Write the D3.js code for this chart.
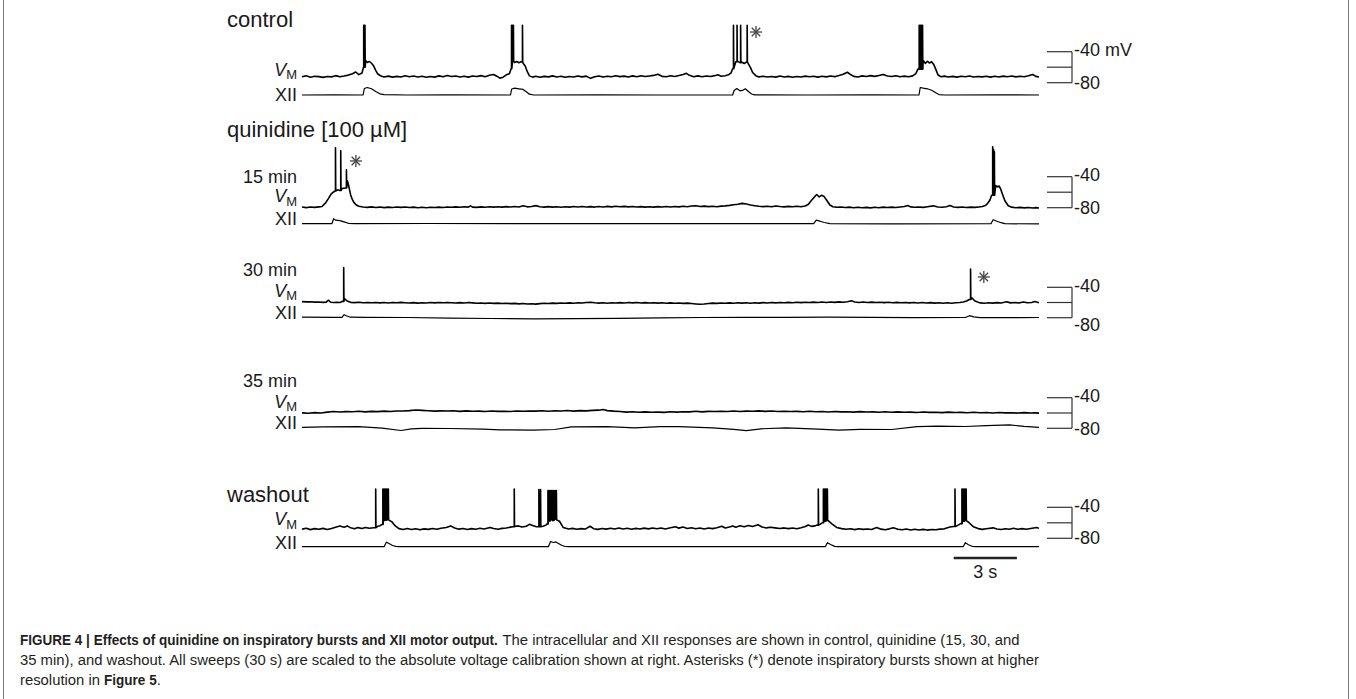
<!DOCTYPE html>
<html>
<head>
<meta charset="utf-8">
<script src="https://cdn.jsdelivr.net/npm/d3@7"></script>
<style>
  body { margin: 0; background: #fff; }
  svg text { font-family: Arial, "Liberation Sans", Helvetica, sans-serif; fill: #1a1a1a; }
</style>
</head>
<body>
<div id="chart"></div>
<script>
// sweep length (s) and voltage calibration (mV)
const sweepSeconds = [0, 35];
const calTicks = [-40, -60, -80];
const scaleBarSeconds = [30.95, 33.95];

const panelTitles = ['control', '15 min', '30 min', '35 min', 'washout'];
const drugTitle = 'quinidine [100 µM]';

// membrane potential, [t (s), mV]
const vmControl = [[0,-72.4],[0.2,-71.0],[0.4,-72.9],[0.6,-71.6],[0.8,-72.2],[1.0,-73.1],[1.2,-71.9],[1.4,-72.5],[1.6,-70.9],[1.8,-72.3],[2.0,-71.4],[2.2,-70.2],[2.4,-68.4],[2.55,-66.2],[2.7,-69.6],[2.85,-67.5],[2.92,-60],
  [3.02,-51.5],[3.1,-53.8],[3.2,-52.6],[3.3,-54.9],[3.4,-58.2],[3.5,-64.0],[3.6,-68.8],[3.75,-71.4],[3.9,-72.7],[4.1,-71.5],[4.3,-72.8],[4.5,-71.8],[4.7,-72.6],[4.9,-71.1],[5.1,-72.4],[5.3,-71.4],[5.5,-72.7],[5.7,-71.7],[5.9,-72.9],[6.1,-71.9],[6.3,-72.8],[6.5,-71.2],[6.7,-72.3],[6.9,-70.7],[7.1,-72.1],[7.3,-71.3],[7.5,-72.6],[7.7,-71.6],[7.9,-72.8],[8.1,-71.4],[8.3,-72.1],[8.5,-70.9],[8.7,-72.2],[8.9,-70.4],[9.1,-69.4],[9.25,-71.6],[9.4,-74.1],[9.55,-72.9],[9.7,-69.8],[9.85,-68.3],[9.93,-62],
  [10.0,-52.4],[10.1,-54.0],[10.2,-52.6],[10.3,-54.2],[10.4,-53.1],[10.5,-55.0],[10.6,-58.4],[10.7,-65.8],[10.8,-71.2],[10.95,-72.8],[11.1,-71.6],[11.3,-72.9],[11.5,-71.8],[11.7,-72.5],[11.9,-71.2],[12.1,-72.6],[12.3,-71.6],[12.5,-73.0],[12.7,-71.9],[12.9,-72.7],[13.1,-71.3],[13.3,-72.5],[13.5,-71.5],[13.7,-74.4],[13.9,-72.4],[14.1,-71.3],[14.3,-72.7],[14.5,-71.6],[14.7,-72.4],[14.9,-71.0],[15.1,-72.2],[15.3,-71.5],[15.5,-72.6],[15.7,-71.2],[15.9,-72.3],[16.1,-71.0],[16.3,-72.1],[16.5,-71.4],[16.7,-70.6],[16.9,-69.2],[17.1,-71.8],[17.3,-72.4],[17.5,-71.1],[17.7,-72.0],[17.9,-70.8],[18.1,-69.4],[18.25,-67.9],[18.4,-70.5],[18.6,-72.3],[18.8,-71.2],[19.0,-72.4],[19.2,-71.3],[19.4,-72.0],[19.6,-70.9],[19.75,-69.8],[19.9,-71.6],[20.1,-71.0],[20.25,-69.8],[20.38,-67.2],[20.45,-62],
  [20.5,-51.8],[20.6,-53.0],[20.7,-52.4],[20.8,-54.1],[20.9,-53.6],[21.0,-55.2],[21.1,-53.4],[21.2,-55.8],[21.3,-60.5],[21.4,-66.8],[21.55,-70.9],[21.7,-72.5],[21.9,-71.6],[22.1,-72.7],[22.3,-71.9],[22.5,-72.8],[22.7,-71.4],[22.9,-72.6],[23.1,-71.8],[23.3,-72.9],[23.5,-72.0],[23.7,-72.7],[23.9,-71.5],[24.1,-72.4],[24.3,-71.7],[24.5,-72.8],[24.7,-71.6],[24.9,-72.5],[25.1,-71.3],[25.3,-72.2],[25.5,-70.8],[25.7,-69.2],[25.9,-66.5],[26.05,-69.5],[26.2,-71.8],[26.4,-72.6],[26.6,-71.2],[26.8,-72.0],[27.0,-70.9],[27.2,-71.8],[27.4,-70.6],[27.6,-69.3],[27.8,-71.4],[28.0,-72.1],[28.2,-71.0],[28.4,-72.3],[28.6,-71.5],[28.8,-72.4],[29.0,-71.2],[29.15,-68.2],[29.25,-62.5],
  [29.5,-51.5],[29.6,-55.0],[29.7,-52.3],[29.8,-54.6],[29.9,-53.0],[30.0,-56.4],[30.1,-62.8],[30.2,-69.7],[30.35,-72.4],[30.5,-71.5],[30.7,-72.6],[30.9,-71.8],[31.1,-72.8],[31.3,-71.6],[31.5,-72.4],[31.7,-71.4],[31.9,-72.7],[32.1,-71.9],[32.3,-72.5],[32.5,-71.6],[32.7,-72.8],[32.9,-71.7],[33.1,-72.6],[33.3,-71.5],[33.5,-72.4],[33.7,-71.3],[33.9,-72.5],[34.1,-71.6],[34.3,-72.3],[34.5,-71.0],[34.7,-69.4],[34.85,-71.8],[35.0,-72.6]];
const vm15 = [[0,-79.2],[0.2,-79.9],[0.4,-79.0],[0.6,-79.6],[0.8,-78.9],[0.95,-78.4],[1.13,-73.5],[1.26,-68.0],[1.38,-62.5],[1.5,-59.7],[1.57,-58.5],[1.63,-57.8],[1.72,-57.0],[1.8,-57.9],[1.89,-55.5],[1.97,-55.0],[2.06,-54.6],[2.15,-45.0],[2.22,-52],[2.31,-63.5],[2.4,-70],[2.47,-73.5],[2.58,-76.5],[2.7,-78.2],[2.9,-79.0],
  [3.1,-79.6],[3.3,-78.9],[3.5,-79.7],[3.7,-79.2],[3.9,-79.9],[4.1,-79.3],[4.3,-79.8],[4.5,-79.1],[4.7,-79.6],[4.9,-79.0],[5.1,-79.7],[5.3,-79.3],[5.5,-80.1],[5.7,-79.5],[5.9,-80.0],[6.1,-79.4],[6.3,-79.8],[6.5,-79.2],[6.7,-79.7],[6.9,-79.0],[7.1,-79.5],[7.3,-78.9],[7.5,-79.4],[7.7,-78.8],[7.9,-79.3],[8.0,-77.6],[8.1,-79.2],[8.3,-79.6],[8.5,-78.9],[8.7,-79.4],[8.9,-78.8],[9.1,-79.3],[9.3,-78.7],[9.5,-79.2],[9.7,-78.6],[9.9,-79.1],[10.1,-78.5],[10.3,-79.0],[10.5,-77.5],[10.7,-78.9],[10.9,-78.4],[11.1,-77.3],[11.3,-78.8],[11.5,-79.3],[11.7,-78.6],[11.9,-79.2],[12.1,-78.7],[12.3,-79.4],[12.5,-78.8],[12.7,-79.3],[12.9,-78.5],[13.1,-79.0],[13.3,-78.4],[13.5,-79.1],[13.7,-78.6],[13.9,-79.2],[14.1,-78.5],[14.3,-79.0],[14.5,-78.3],[14.7,-78.9],[14.9,-78.2],[15.1,-78.8],[15.3,-78.3],[15.5,-78.9],[15.7,-78.5],[15.9,-79.1],[16.1,-78.6],[16.3,-79.2],[16.5,-78.7],[16.7,-79.3],[16.9,-78.6],[17.1,-79.0],[17.3,-78.4],[17.5,-79.1],[17.7,-78.5],[17.9,-78.9],[18.1,-78.2],[18.3,-78.7],[18.5,-77.9],[18.7,-77.4],[18.9,-78.5],[19.1,-78.0],[19.3,-78.6],[19.5,-78.1],[19.7,-78.7],[19.9,-78.0],[20.1,-77.6],[20.3,-77.0],[20.5,-76.2],[20.7,-75.5],[20.9,-74.4],[21.1,-75.2],[21.3,-76.5],[21.5,-77.4],[21.7,-78.2],[21.9,-78.6],[22.1,-78.1],[22.3,-78.8],[22.5,-77.9],[22.7,-78.5],[22.9,-78.9],[23.1,-78.3],[23.3,-78.8],[23.5,-78.2],[23.7,-78.7],[23.9,-77.8],
  [24.05,-75.5],[24.15,-72.0],[24.26,-68.5],[24.44,-63.0],[24.56,-66.0],[24.68,-64.0],[24.79,-65.5],[24.91,-70.0],[25.07,-76.5],[25.21,-78.8],[25.4,-79.5],[25.6,-79.0],[25.8,-79.8],[26.0,-79.3],[26.2,-80.0],[26.4,-79.4],[26.6,-80.1],[26.8,-79.6],[27.0,-80.2],[27.2,-79.5],[27.4,-80.0],[27.6,-79.3],[27.8,-79.8],[28.0,-79.2],[28.2,-79.7],[28.4,-79.0],[28.6,-78.4],[28.77,-77.2],[28.9,-78.9],[29.1,-79.5],[29.3,-79.0],[29.5,-79.6],[29.7,-78.8],[29.98,-77.6],[30.2,-79.1],[30.4,-79.5],[30.6,-78.7],[30.77,-77.3],[30.95,-79.0],[31.15,-79.6],[31.35,-79.1],[31.55,-79.7],[31.75,-79.2],[31.95,-79.6],[32.15,-79.0],[32.3,-78.5],[32.42,-77.5],[32.51,-76.0],[32.6,-73.0],[32.67,-70.0],[32.75,-64.0],
  [32.94,-51.5],[33.02,-53.0],[33.11,-52.0],[33.18,-56.0],[33.27,-63.0],[33.38,-71.0],[33.54,-77.5],[33.7,-79.3],[33.9,-80.0],[34.1,-79.6],[34.3,-80.2],[34.5,-79.7],[34.7,-80.3],[34.85,-79.9],[35.0,-80.4]];
const vm30 = [[0,-58.8],[0.2,-59.2],[0.4,-59.0],[0.6,-59.5],[0.8,-59.3],[1.0,-59.8],[1.15,-59.5],[1.26,-57.0],[1.36,-59.7],[1.5,-60.0],[1.65,-59.6],[1.8,-59.9],[1.93,-58.5],[2.01,-55.0],[2.14,-58.0],[2.31,-59.8],[2.5,-60.2],[2.7,-59.7],[2.9,-60.3],[3.1,-59.9],[3.3,-60.4],[3.5,-60.0],[3.7,-60.5],[3.9,-60.1],[4.1,-60.6],[4.3,-60.0],[4.5,-60.4],[4.7,-59.8],[4.9,-60.3],[5.1,-60.7],[5.3,-60.2],[5.5,-60.8],[5.7,-60.3],[5.9,-60.6],[6.1,-60.1],[6.3,-60.5],[6.5,-60.0],[6.7,-60.4],[6.9,-59.9],[7.1,-60.3],[7.3,-60.7],[7.5,-60.2],[7.7,-60.6],[7.9,-60.1],[8.1,-60.5],[8.3,-61.0],[8.5,-60.6],[8.7,-61.1],[8.9,-60.7],[9.1,-61.2],[9.3,-60.8],[9.5,-61.3],[9.7,-60.9],[9.9,-61.5],
  [10.1,-61.2],[10.3,-61.8],[10.5,-61.4],[10.7,-62.0],[10.9,-61.6],[11.1,-62.1],[11.3,-61.5],[11.5,-61.0],[11.7,-61.4],[11.9,-60.8],[12.1,-61.2],[12.3,-60.6],[12.5,-61.0],[12.7,-60.5],[12.9,-60.9],[13.1,-60.3],[13.3,-60.7],[13.5,-60.1],[13.7,-59.6],[13.9,-60.3],[14.1,-60.8],[14.3,-60.4],[14.5,-60.9],[14.7,-60.3],[14.9,-60.7],[15.1,-60.2],[15.3,-60.6],[15.5,-60.0],[15.7,-60.5],[15.9,-60.1],[16.1,-60.6],[16.3,-60.2],[16.5,-60.7],[16.7,-60.3],[16.9,-60.8],[17.1,-60.4],[17.3,-60.9],[17.5,-60.5],[17.7,-61.0],[17.9,-60.6],[18.1,-61.1],[18.3,-60.8],[18.5,-61.4],[18.7,-61.9],[18.9,-62.4],[19.1,-62.0],[19.3,-61.3],[19.5,-60.8],[19.7,-61.2],[19.9,-60.6],
  [20.1,-61.0],[20.3,-60.5],[20.5,-60.9],[20.7,-60.4],[20.9,-60.8],[21.1,-60.3],[21.3,-60.9],[21.5,-60.4],[21.7,-60.8],[21.9,-60.2],[22.1,-60.6],[22.3,-60.0],[22.5,-60.5],[22.7,-59.9],[22.9,-60.4],[23.1,-59.8],[23.3,-60.3],[23.5,-59.7],[23.7,-60.2],[23.9,-59.6],[24.1,-60.1],[24.3,-59.5],[24.5,-60.0],[24.7,-59.4],[24.9,-59.9],[25.1,-59.3],[25.3,-59.8],[25.5,-59.2],[25.7,-59.7],[25.9,-59.0],[26.1,-57.8],[26.25,-59.4],[26.45,-59.9],[26.65,-59.4],[26.85,-60.0],[27.05,-59.5],[27.25,-60.1],[27.45,-59.6],[27.65,-60.2],[27.85,-59.7],[28.05,-60.3],[28.25,-59.8],[28.45,-60.4],[28.65,-59.9],[28.85,-60.5],[29.05,-60.0],[29.25,-60.6],[29.45,-60.1],[29.65,-60.7],[29.85,-60.2],
  [30.05,-60.8],[30.25,-60.3],[30.45,-60.9],[30.65,-60.4],[30.85,-60.9],[31.05,-60.3],[31.24,-60.0],[31.4,-59.4],[31.56,-58.0],[31.69,-56.0],[31.81,-54.0],[31.96,-58.0],[32.19,-60.5],[32.4,-60.9],[32.6,-60.4],[32.8,-60.8],[33.0,-60.2],[33.2,-60.6],[33.46,-59.0],[33.65,-60.5],[33.85,-60.0],[34.05,-60.6],[34.25,-59.4],[34.45,-60.4],[34.65,-59.9],[34.8,-58.8],[35.0,-60.2]];
const vm35 = [[0,-59.8],[0.3,-60.3],[0.6,-59.5],[0.9,-60.0],[1.2,-58.9],[1.5,-58.1],[1.8,-58.7],[2.1,-58.2],[2.4,-58.4],[2.7,-57.8],[3.0,-58.5],[3.3,-57.9],[3.6,-58.2],[3.9,-57.5],[4.2,-58.0],[4.5,-57.3],[4.8,-57.4],[5.1,-56.9],[5.4,-56.1],[5.7,-56.6],[6.0,-57.0],[6.3,-57.6],[6.6,-57.2],[6.9,-57.4],[7.2,-57.1],[7.5,-57.9],[7.8,-57.2],[8.1,-57.7],[8.4,-57.5],[8.7,-58.1],[9.0,-57.4],[9.3,-57.9],[9.6,-57.7],[9.9,-58.0],
  [10.2,-57.3],[10.5,-57.8],[10.8,-57.4],[11.1,-57.6],[11.4,-57.0],[11.7,-57.7],[12.0,-57.1],[12.3,-57.3],[12.6,-56.8],[12.9,-57.5],[13.2,-56.9],[13.5,-57.2],[13.8,-56.6],[14.1,-56.3],[14.3,-55.5],[14.5,-56.9],[14.8,-57.6],[15.1,-58.1],[15.4,-58.9],[15.7,-58.3],[16.0,-59.1],[16.3,-58.5],[16.6,-59.0],[16.9,-58.8],[17.2,-59.2],[17.5,-58.4],[17.8,-58.8],[18.1,-58.3],[18.4,-58.5],[18.7,-57.8],[19.0,-58.5],[19.3,-57.9],[19.6,-58.1],[19.9,-57.7],
  [20.2,-58.0],[20.5,-57.4],[20.8,-58.1],[21.1,-57.5],[21.4,-57.8],[21.7,-57.2],[22.0,-57.9],[22.3,-57.3],[22.6,-58.1],[22.9,-57.7],[23.2,-58.0],[23.5,-57.9],[23.8,-58.4],[24.1,-57.8],[24.4,-58.3],[24.7,-58.1],[25.0,-58.6],[25.3,-58.0],[25.6,-58.5],[25.9,-58.3],[26.2,-58.8],[26.5,-58.2],[26.8,-58.7],[27.1,-58.5],[27.4,-59.0],[27.7,-58.4],[28.0,-59.1],[28.3,-58.5],[28.6,-59.0],[28.9,-58.8],[29.2,-59.3],[29.5,-58.7],[29.8,-59.2],
  [30.1,-59.0],[30.4,-59.5],[30.7,-58.9],[31.0,-59.4],[31.3,-59.2],[31.6,-59.7],[31.9,-59.1],[32.2,-59.6],[32.5,-59.4],[32.8,-59.9],[33.1,-59.3],[33.4,-59.8],[33.7,-59.6],[34.0,-60.1],[34.3,-59.5],[34.6,-60.0],[34.8,-59.8],[35.0,-60.1]];
const vmWash = [[0,-68.2],[0.2,-67.0],[0.4,-68.8],[0.6,-67.5],[0.8,-68.4],[1.0,-67.2],[1.2,-68.6],[1.4,-67.4],[1.63,-65.5],[1.8,-64.2],[2.0,-65.8],[2.15,-64.0],[2.31,-66.5],[2.5,-67.8],[2.65,-66.2],[2.85,-67.4],[3.0,-66.0],[3.2,-67.1],[3.4,-66.3],[3.59,-64.5],[3.7,-63.8],[3.8,-62.0],[3.86,-57],[3.95,-56.5],[4.05,-56],[4.15,-57],[4.26,-58.5],[4.43,-64],[4.6,-67.5],[4.8,-68.6],
  [5.0,-67.4],[5.2,-68.7],[5.4,-67.6],[5.6,-68.9],[5.8,-67.8],[6.0,-68.5],[6.2,-67.3],[6.4,-68.4],[6.6,-67.0],[6.85,-66.0],[7.06,-64.0],[7.25,-66.8],[7.45,-68.2],[7.65,-67.4],[7.85,-68.6],[8.05,-67.5],[8.25,-68.3],[8.45,-67.1],[8.65,-67.9],[8.93,-66.0],[9.1,-67.4],[9.3,-68.3],[9.5,-67.2],[9.7,-66.8],[9.9,-65.6],[10.03,-65.0],[10.15,-64.5],[10.28,-64.0],[10.45,-65.5],[10.65,-64.5],[10.8,-62.0],[10.95,-63.5],[11.13,-65.0],[11.45,-64.5],[11.58,-63.0],[11.64,-61.5],
  [11.7,-57.5],[11.8,-56.0],[11.9,-57.0],[12.0,-55.5],[12.1,-56.5],[12.23,-58.0],[12.4,-66.0],[12.66,-68.0],[12.85,-67.2],[13.05,-68.4],[13.25,-67.5],[13.45,-68.1],[13.68,-64.5],[13.85,-67.6],[14.05,-68.5],[14.25,-67.3],[14.45,-68.2],[14.65,-67.0],[14.85,-67.9],[15.05,-66.8],[15.25,-68.0],[15.45,-67.1],[15.65,-68.3],[15.85,-67.2],[16.05,-68.1],[16.25,-66.9],[16.45,-67.8],[16.65,-66.6],[16.85,-67.7],[17.05,-66.8],[17.25,-68.0],[17.5,-66.5],[17.74,-65.0],[17.9,-66.9],[18.09,-65.5],[18.3,-67.4],[18.5,-66.3],[18.7,-67.6],[18.9,-66.7],[19.1,-67.9],[19.3,-66.8],[19.5,-67.5],[19.7,-66.4],[19.94,-64.5],
  [20.1,-66.8],[20.3,-65.3],[20.46,-64.0],[20.6,-65.6],[20.8,-63.8],[21.0,-65.2],[21.2,-63.6],[21.4,-64.8],[21.65,-62.5],[21.85,-65.5],[22.05,-66.6],[22.25,-65.8],[22.46,-66.5],[22.7,-67.3],[22.9,-66.6],[23.1,-67.5],[23.3,-66.8],[23.5,-67.7],[23.7,-66.4],[23.9,-64.8],[24.04,-62.8],[24.2,-64.6],[24.35,-64.0],[24.44,-63.0],[24.6,-62.0],[24.7,-60.0],[24.78,-58.0],[24.88,-57.0],[24.99,-57.3],[25.15,-61.0],[25.39,-66.0],[25.63,-67.5],[25.85,-68.4],[26.05,-67.6],[26.25,-68.8],[26.45,-67.7],[26.65,-68.5],[26.85,-67.9],[27.05,-68.7],[27.29,-66.0],[27.5,-68.2],[27.7,-68.9],[27.9,-67.8],[28.08,-66.5],[28.3,-68.3],[28.5,-69.0],[28.7,-68.1],[28.9,-69.2],[29.1,-68.4],[29.3,-69.3],[29.5,-68.5],[29.7,-69.4],[29.9,-68.6],
  [30.1,-69.0],[30.3,-68.2],[30.5,-67.8],[30.77,-65.5],[30.93,-64.8],[31.08,-64.0],[31.16,-63.0],[31.28,-61.0],[31.36,-58.0],[31.46,-57.0],[31.56,-57.5],[31.64,-59.0],[31.88,-65.0],[32.11,-67.5],[32.3,-68.5],[32.5,-67.6],[32.82,-66.5],[33.0,-67.9],[33.2,-68.6],[33.4,-67.7],[33.6,-68.4],[33.78,-67.0],[34.0,-68.3],[34.2,-67.5],[34.4,-68.4],[34.6,-67.3],[34.89,-66.0],[35.0,-67.2]];

// action potentials, [t (s), peak mV]
const spikesControl = [[2.93,-6],[2.96,-6],[2.99,-6],[9.95,-6],[10.0,-6],[10.04,-6],[10.47,-6],[20.49,-6],[20.66,-6],[20.83,-6],[21.14,-6],[29.31,-6],[29.35,-6],[29.39,-6],[29.43,-6],[29.47,-6]];
const spikes15 = [[1.59,-2.8],[1.84,-6.5],[2.11,-31],[32.8,-1.3],[32.84,-5],[32.88,-7.7]];
const spikes30 = [[1.98,-14],[31.75,-16]];
const spikes35 = [];
const spikesWash = [[3.5,-16.4],[3.84,-16.4],[3.9,-16.4],[3.95,-16.4],[4.0,-16.4],[4.05,-16.4],[4.1,-16.4],[10.08,-16.4],[11.25,-17],[11.33,-17],[11.68,-18.5],[11.73,-18.5],[11.78,-18.5],[11.83,-18.5],[11.88,-18.5],[11.95,-18.5],[12.02,-18.5],[12.08,-18.5],[24.52,-16.4],[24.76,-16.4],[24.81,-16.4],[24.86,-16.4],[24.91,-16.4],[24.95,-16.4],[31.01,-16.4],[31.34,-16.4],[31.39,-16.4],[31.44,-16.4],[31.49,-16.4],[31.54,-16.4]];

// integrated XII motor output, [t (s), a.u.]
const xiiControl = [[0,0],[1.5,0.2],[2.9,0],[2.96,6.5],[3.1,7.5],[3.3,6.2],[3.5,3.5],[3.7,1.2],[3.9,0.3],[5,0],[7,0.2],[9.9,0],[9.96,6],[10.1,6.8],[10.3,6.2],[10.5,5.6],[10.65,3.2],[10.8,0.8],[11,0],[14,0.2],[17,0],[20.45,0],[20.52,4.5],[20.65,6.5],[20.8,4.2],[20.92,4.6],[21.05,6.2],[21.2,3.5],[21.35,1],[21.5,0.1],[24,0],[27,0.2],[29.3,0],[29.36,7.5],[29.5,6.8],[29.7,6.2],[29.9,4.8],[30.1,2.2],[30.25,0.4],[30.5,0],[33,0.1],[35,0]];
const xii15 = [[0,0],[1.42,0],[1.5,5],[1.6,3.5],[1.8,3],[2.0,1.8],[2.23,0.2],[2.5,0],[6,0.2],[10,0],[14,0.1],[18,0],[22,0.1],[24.3,0],[24.42,3.5],[24.6,2.5],[24.8,1.2],[25.07,0],[28,-0.1],[32.72,0],[32.82,4],[33.0,2.5],[33.2,1],[33.38,0],[35,-0.2]];
const xii30 = [[0,0.6],[1.5,0.3],[1.9,0.3],[2.0,3],[2.1,2],[2.3,0.5],[3,0.3],[5,0.2],[7,-0.4],[9,-0.8],[11,-1.2],[13,-1.0],[15,-0.6],[17,-0.2],[19,0.2],[21,0.4],[23,0.3],[25,0.5],[27,0.3],[29,0.1],[31.5,0.2],[31.7,2],[31.9,0.8],[32.2,0],[34,0.1],[35,0.2]];
const xii35 = [[0,0],[1,0.5],[2.7,0.7],[3.8,-0.8],[4.7,-3.2],[5.2,-1.5],[5.7,-1],[7,-1.2],[8.6,-1.8],[9.4,-2.6],[11,-2.8],[12,-2.2],[12.8,0.5],[14.5,0.7],[15.8,-0.5],[17,0.7],[17.9,0.6],[19.5,-0.5],[20.5,-2.0],[21.1,-3.4],[21.8,-1.5],[23,-0.6],[24.5,-1.8],[25.5,-2.8],[26.5,-2.1],[28,-2.2],[29.2,0.6],[30.2,1.2],[31.5,0.8],[32.5,1.6],[33.6,2.4],[34.3,0.9],[35,0]];
const xiiWash = [[0,0],[3.9,0],[3.98,3.5],[4.02,4.5],[4.15,3],[4.3,1.2],[4.45,0.3],[4.6,0],[8,0.1],[11.7,0],[11.8,5],[11.95,4.2],[12.05,4.8],[12.2,3],[12.35,1.2],[12.5,0.2],[12.7,0],[18,0.1],[24.85,0],[24.95,4],[25.1,2.2],[25.3,0.3],[25.45,0],[31.4,0],[31.5,4],[31.65,2],[31.85,0.2],[32,0],[35,0]];

// bursts marked for Figure 5, [panel, t (s), mV]
const asterisks = [[0, 21.56, -14.6], [1, 2.56, -19.7], [2, 32.38, -26.4]];

const captionLines = [
  [['FIGURE 4 | Effects of quinidine on inspiratory bursts and XII motor output.', true], ['The intracellular and XII responses are shown in control, quinidine (15, 30, and', false]],
  [['35 min), and washout. All sweeps (30 s) are scaled to the absolute voltage calibration shown at right. Asterisks (*) denote inspiratory bursts shown at higher', false]],
  [['resolution in', false], ['Figure 5', true], ['.', false]]
];

// layout (px)
const width = 1356, height = 699;
const panels = [
  { vm: vmControl, spikes: spikesControl, xii: xiiControl, y40: 51.7, y80: 82.7, xiiBase: 95, titleY: 27, labelDy: 4, big: true, unit: ' mV', lowDy: 6.5 },
  { vm: vm15, spikes: spikes15, xii: xii15, y40: 176.7, y80: 207.7, xiiBase: 223.7, titleY: 183, labelDy: 0, big: false, unit: '', lowDy: 6.5 },
  { vm: vm30, spikes: spikes30, xii: xii30, y40: 287.3, y80: 317.7, xiiBase: 317.7, titleY: 276, labelDy: 0, big: false, unit: '', lowDy: 13.5 },
  { vm: vm35, spikes: spikes35, xii: xii35, y40: 397.7, y80: 428.3, xiiBase: 427.3, titleY: 387, labelDy: 0, big: false, unit: '', lowDy: 6.5 },
  { vm: vmWash, spikes: spikesWash, xii: xiiWash, y40: 507.3, y80: 538.3, xiiBase: 546.7, titleY: 502, labelDy: 1, big: true, unit: '', lowDy: 5.5 }
];

const svg = d3.select('#chart').append('svg')
  .attr('width', width)
  .attr('height', height);

// figure frame
svg.append('rect')
  .attr('x', 3.5).attr('y', -10)
  .attr('width', 1345).attr('height', height + 20)
  .attr('fill', 'none')
  .attr('stroke', '#777')
  .attr('stroke-width', 1);

const x = d3.scaleLinear().domain(sweepSeconds).range([302, 1039]);

// merge action potentials into the sampled trace as needle-like excursions
const withSpikes = (base, spikes) => {
  const pts = base.map(d => ({ t: d[0], v: d[1], k: 0 }));
  spikes.forEach(([t, peak]) => {
    const prev = base.filter(d => d[0] <= t).pop() || base[0];
    pts.push({ t, v: prev[1], k: 1 }, { t, v: peak, k: 2 }, { t: t + 0.012, v: prev[1], k: 3 });
  });
  return pts.sort((a, b) => a.t - b.t || a.k - b.k);
};

panels.forEach((p, i) => {
  const g = svg.append('g').attr('class', `panel-${i}`);
  const yVm = d3.scaleLinear().domain([-80, -40]).range([p.y80, p.y40]);
  const yXii = d3.scaleLinear().domain([0, 10]).range([p.xiiBase, p.xiiBase - 10]);

  const vmLine = d3.line().x(d => x(d.t)).y(d => yVm(d.v));
  const xiiLine = d3.line().x(d => x(d[0])).y(d => yXii(d[1]));

  g.append('path')
    .attr('d', vmLine(withSpikes(p.vm, p.spikes)))
    .attr('fill', 'none')
    .attr('stroke', '#000')
    .attr('stroke-width', 1.6)
    .attr('stroke-linejoin', 'round');
  g.append('path')
    .attr('d', xiiLine(p.xii))
    .attr('fill', 'none')
    .attr('stroke', '#000')
    .attr('stroke-width', 1.2)
    .attr('stroke-linejoin', 'round');

  // labels
  g.append('text')
    .attr('x', p.big ? 227 : 297)
    .attr('y', p.titleY)
    .attr('text-anchor', p.big ? 'start' : 'end')
    .attr('font-size', p.big ? 22 : 18)
    .text(panelTitles[i]);
  const vl = g.append('text')
    .attr('x', 297)
    .attr('y', yVm(p.vm[0][1]) - 5 + p.labelDy)
    .attr('text-anchor', 'end')
    .attr('font-size', 18);
  vl.append('tspan').attr('font-style', 'italic').text('V');
  vl.append('tspan').attr('font-size', 13).attr('dy', 3.5).text('M');
  g.append('text')
    .attr('x', 297)
    .attr('y', yXii(p.xii[0][1]) + 1.5 + p.labelDy)
    .attr('text-anchor', 'end')
    .attr('font-size', 18)
    .text('XII');

  // absolute voltage calibration
  const cal = g.append('g').attr('stroke', '#333').attr('stroke-width', 1.2);
  calTicks.forEach(v => {
    cal.append('line')
      .attr('x1', 1047).attr('x2', 1072)
      .attr('y1', yVm(v)).attr('y2', yVm(v));
  });
  cal.append('line')
    .attr('x1', 1072).attr('x2', 1072)
    .attr('y1', yVm(-40)).attr('y2', yVm(-80));
  g.append('text')
    .attr('x', 1074).attr('y', yVm(-40) + 4.5)
    .attr('font-size', 18)
    .text(`-40${p.unit}`);
  g.append('text')
    .attr('x', 1074).attr('y', yVm(-80) + p.lowDy)
    .attr('font-size', 18)
    .text('-80');

  // asterisks
  asterisks.filter(a => a[0] === i).forEach(([, t, v]) => {
    const cx = x(t), cy = yVm(v), r = 6;
    [0, 45, 90, 135].forEach(a => {
      const rad = a * Math.PI / 180;
      g.append('line')
        .attr('x1', cx - r * Math.cos(rad)).attr('y1', cy - r * Math.sin(rad))
        .attr('x2', cx + r * Math.cos(rad)).attr('y2', cy + r * Math.sin(rad))
        .attr('stroke', '#444').attr('stroke-width', 1.3);
    });
  });
});

svg.append('text')
  .attr('x', 227).attr('y', 137)
  .attr('font-size', 22)
  .text(drugTitle);

// time scale bar
svg.append('line')
  .attr('x1', x(scaleBarSeconds[0])).attr('x2', x(scaleBarSeconds[1]))
  .attr('y1', 558).attr('y2', 558)
  .attr('stroke', '#222').attr('stroke-width', 2.5);
svg.append('text')
  .attr('x', (x(scaleBarSeconds[0]) + x(scaleBarSeconds[1])) / 2)
  .attr('y', 578)
  .attr('text-anchor', 'middle')
  .attr('font-size', 18)
  .text(`${d3.format('.0f')(scaleBarSeconds[1] - scaleBarSeconds[0])} s`);

// caption: condensed face imitated by squeezing each run horizontally
const cap = svg.append('g').attr('class', 'caption');
const capSize = 15, gap = 4;
const runs = captionLines.map(line => line.map(([s, bold]) => {
  const t = cap.append('text')
    .attr('font-size', capSize)
    .attr('font-weight', bold ? 'bold' : null)
    .style('fill', '#231f20')
    .text(s);
  return { t, bold, w: t.node().getComputedTextLength() };
}));
// fit line 2 (all regular) and line 1 to their printed widths
const regFit = 1020 / runs[1][0].w;
const boldFit = (1000 - gap - runs[0][1].w * regFit) / runs[0][0].w;
runs.forEach((line, i) => {
  let cx = 20;
  line.forEach((r, j) => {
    const f = r.bold ? boldFit : regFit;
    if (j > 0 && r.t.text() !== '.') cx += gap;
    r.t.attr('transform', `translate(${cx},${645 + i * 20}) scale(${f},1)`);
    cx += r.w * f;
  });
});
</script>
</body>
</html>
